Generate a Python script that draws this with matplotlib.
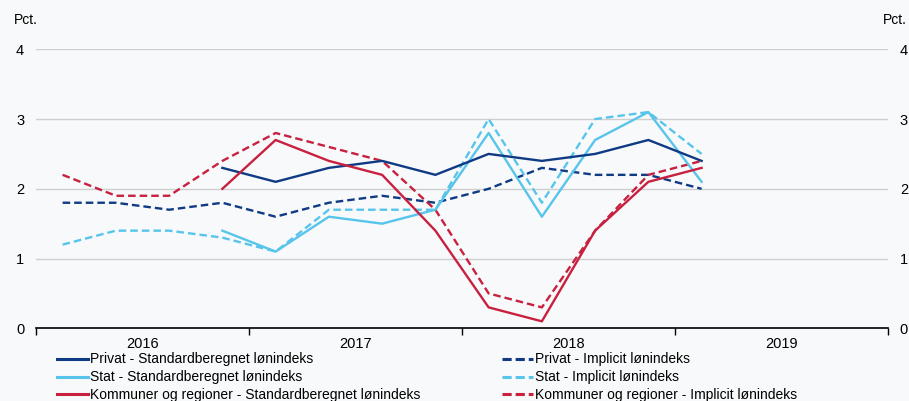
import numpy as np
import matplotlib
matplotlib.use('Agg')
import matplotlib.pyplot as plt
from matplotlib.lines import Line2D

plt.rcParams['font.family'] = ['Liberation Sans', 'DejaVu Sans']

# quarters 2016K1 .. 2019K1 (13 values), None = no data
years = ['2016', '2017', '2018', '2019']
privat_std = [None, None, None, 2.3, 2.1, 2.3, 2.4, 2.2, 2.5, 2.4, 2.5, 2.7, 2.4]
privat_impl = [1.8, 1.8, 1.7, 1.8, 1.6, 1.8, 1.9, 1.8, 2.0, 2.3, 2.2, 2.2, 2.0]
stat_std = [None, None, None, 1.4, 1.1, 1.6, 1.5, 1.7, 2.8, 1.6, 2.7, 3.1, 2.1]
stat_impl = [1.2, 1.4, 1.4, 1.3, 1.1, 1.7, 1.7, 1.7, 3.0, 1.8, 3.0, 3.1, 2.5]
komm_std = [None, None, None, 2.0, 2.7, 2.4, 2.2, 1.4, 0.3, 0.1, 1.4, 2.1, 2.3]
komm_impl = [2.2, 1.9, 1.9, 2.4, 2.8, 2.6, 2.4, 1.7, 0.5, 0.3, 1.4, 2.2, 2.4]

navy = '#0f3a84'
light = '#57c5eb'
red = '#c8203f'
bg = '#f8f9fa'

fig = plt.figure(figsize=(9.09, 4.01), dpi=100, facecolor=bg)
ax = fig.add_axes([36/909, 1-328.3/401, (888-36)/909, (328.3-49.3)/401])
ax.set_facecolor(bg)

x = np.arange(13)
def arr(v):
    return np.array([np.nan if a is None else a for a in v], dtype=float)

lw = 1.7
series = [
    (privat_std, navy, '-', 'Privat - Standardberegnet lønindeks'),
    (stat_std, light, '-', 'Stat - Standardberegnet lønindeks'),
    (komm_std, red, '-', 'Kommuner og regioner - Standardberegnet lønindeks'),
    (privat_impl, navy, '--', 'Privat - Implicit lønindeks'),
    (stat_impl, light, '--', 'Stat - Implicit lønindeks'),
    (komm_impl, red, '--', 'Kommuner og regioner - Implicit lønindeks'),
]
draw_order = [3, 4, 5, 1, 0, 2]
for i in draw_order:
    vals, c, ls, lab = series[i]
    ax.plot(x, arr(vals), color=c, ls=ls, lw=lw, dashes=(3.2, 1.7) if ls == '--' else (None, None))

ax.set_xlim(-0.5, 15.5)
ax.set_ylim(0, 4)
for s in ['left', 'right', 'top']:
    ax.spines[s].set_visible(False)
ax.spines['bottom'].set_color('black')
ax.spines['bottom'].set_linewidth(1.2)
for yv in [1, 2, 3, 4]:
    ax.axhline(yv, color='#cfcfcf', lw=1, zorder=0)

ax.set_yticks([0, 1, 2, 3, 4])
ax.set_yticklabels(['0', '1', '2', '3', '4'])
ax.tick_params(axis='y', length=0, labelsize=10.5, pad=8.5, labelright=True)
ax.set_xticks([-0.5, 3.5, 7.5, 11.5, 15.5])
ax.set_xticklabels([])
ax.tick_params(axis='x', length=5, direction='out', color='black', width=1)
for k, yr in enumerate(years):
    ax.text(1.5 + 4*k, -0.12, yr, ha='center', va='top', fontsize=10.5)

fig.text(14/909, 1-20/401, 'Pct.', fontsize=10, va='center', ha='left')
fig.text(907/909, 1-20/401, 'Pct.', fontsize=10, va='center', ha='right')

def make_handles(idx):
    hs = []
    for i in idx:
        vals, c, ls, lab = series[i]
        hs.append(Line2D([], [], color=c, ls=ls, lw=2.2, label=lab,
                         dashes=(3, 1.3) if ls == '--' else (None, None)))
    return hs

leg_kw = dict(frameon=False, fontsize=10, handlelength=2.23, handletextpad=0.15,
              labelspacing=0.28, borderaxespad=0, borderpad=0)
l1 = fig.legend(handles=make_handles([0, 1, 2]), loc='upper left',
                bbox_to_anchor=(57/909, 1-352.5/401), **leg_kw)
l2 = fig.legend(handles=make_handles([3, 4, 5]), loc='upper left',
                bbox_to_anchor=(502/909, 1-352.5/401), **leg_kw)

fig.savefig('out.png', dpi=100, facecolor=bg)
